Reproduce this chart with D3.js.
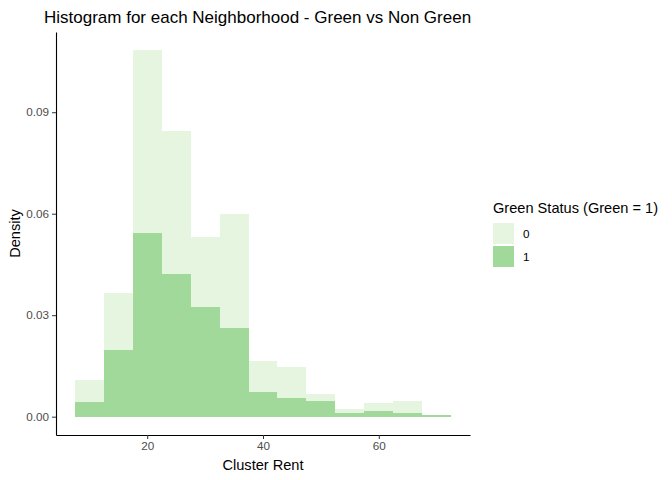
<!DOCTYPE html>
<html>
<head>
<meta charset="utf-8">
<script src="https://d3js.org/d3.v7.min.js"></script>
<style>
  body { margin: 0; background: #fff; }
  text { font-family: "Liberation Sans", Arial, sans-serif; }
</style>
</head>
<body>
<svg id="chart"></svg>
<script>
// bin centres (width 5) and stacked densities per group
const binCenters = [10, 15, 20, 25, 30, 35, 40, 45, 50, 55, 60, 65, 70];
const binWidth = 5;
const green0 = [0.0065, 0.0168, 0.0540, 0.0422, 0.0207, 0.0336, 0.0091, 0.0091, 0.0021, 0.0012, 0.0021, 0.0035, 0.0000];
const green1 = [0.0044, 0.0198, 0.0543, 0.0422, 0.0324, 0.0263, 0.0074, 0.0056, 0.0047, 0.0012, 0.0018, 0.0012, 0.0004];
const groups = ["0", "1"];
const groupColors = ["#e5f5e0", "#a1d99b"];
const xTicks = [20, 40, 60];
const yTicks = [0, 0.03, 0.06, 0.09];

const W = 672, H = 480;
const margin = { top: 32, right: 202, bottom: 45, left: 56 };
const width = W - margin.left - margin.right;
const height = H - margin.top - margin.bottom;

const rows = binCenters.map((c, i) => ({ x: c, "0": green0[i], "1": green1[i] }));
// group 1 sits at the bottom, group 0 stacked on top
const stacked = d3.stack().keys(["1", "0"])(rows);

const xmin = binCenters[0] - binWidth / 2, xmax = binCenters[binCenters.length - 1] + binWidth / 2;
const xpad = (xmax - xmin) * 0.05;
const ymax = d3.max(rows, d => d["0"] + d["1"]);

const x = d3.scaleLinear().domain([xmin - xpad, xmax + xpad]).range([0, width]);
const y = d3.scaleLinear().domain([-ymax * 0.05, ymax * 1.05]).range([height, 0]);

const svg = d3.select("#chart").attr("width", W).attr("height", H);
const g = svg.append("g").attr("transform", `translate(${margin.left},${margin.top})`);

const color = d3.scaleOrdinal().domain(groups).range(groupColors);

g.selectAll(".layer")
  .data(stacked)
  .enter().append("g")
  .attr("fill", d => color(d.key))
  .attr("shape-rendering", "crispEdges")
  .selectAll("rect")
  .data(d => d)
  .enter().append("rect")
  .attr("x", d => x(d.data.x - binWidth / 2))
  .attr("width", d => x(d.data.x + binWidth / 2) - x(d.data.x - binWidth / 2))
  .attr("y", d => y(d[1]))
  .attr("height", d => y(d[0]) - y(d[1]));

// axes
const xAxis = g.append("g")
  .attr("transform", `translate(0,${height})`)
  .call(d3.axisBottom(x).tickValues(xTicks).tickSize(4).tickSizeOuter(0).tickPadding(3));
const yAxis = g.append("g")
  .call(d3.axisLeft(y).tickValues(yTicks).tickFormat(d3.format(".2f")).tickSize(4).tickSizeOuter(0).tickPadding(3));

[xAxis, yAxis].forEach(a => {
  a.select(".domain").attr("stroke", "#000").attr("stroke-width", 1.1);
  a.selectAll(".tick line").attr("stroke", "#333");
  a.selectAll(".tick text").attr("fill", "#4d4d4d").style("font-size", "11.7px");
});

// titles
svg.append("text")
  .attr("x", 44).attr("y", 23)
  .style("font-size", "17px")
  .text("Histogram for each Neighborhood - Green vs Non Green");

svg.append("text")
  .attr("x", margin.left + width / 2).attr("y", 470)
  .attr("text-anchor", "middle")
  .style("font-size", "14.6px")
  .text("Cluster Rent");

svg.append("text")
  .attr("transform", `translate(20,${margin.top + height / 2}) rotate(-90)`)
  .attr("text-anchor", "middle")
  .style("font-size", "14.6px")
  .text("Density");

// legend
const legend = svg.append("g").attr("transform", "translate(493,200)");
legend.append("text")
  .attr("x", 0).attr("y", 13)
  .style("font-size", "14.6px")
  .text("Green Status (Green = 1)");

legend.selectAll(".key")
  .data(groups)
  .enter().append("rect")
  .attr("x", 0)
  .attr("y", (d, i) => 23 + i * 23)
  .attr("width", 21).attr("height", 21)
  .attr("fill", d => color(d));

legend.selectAll(".lab")
  .data(groups)
  .enter().append("text")
  .attr("x", 30)
  .attr("y", (d, i) => 38 + i * 23)
  .style("font-size", "11.7px")
  .text(d => d);
</script>
</body>
</html>
